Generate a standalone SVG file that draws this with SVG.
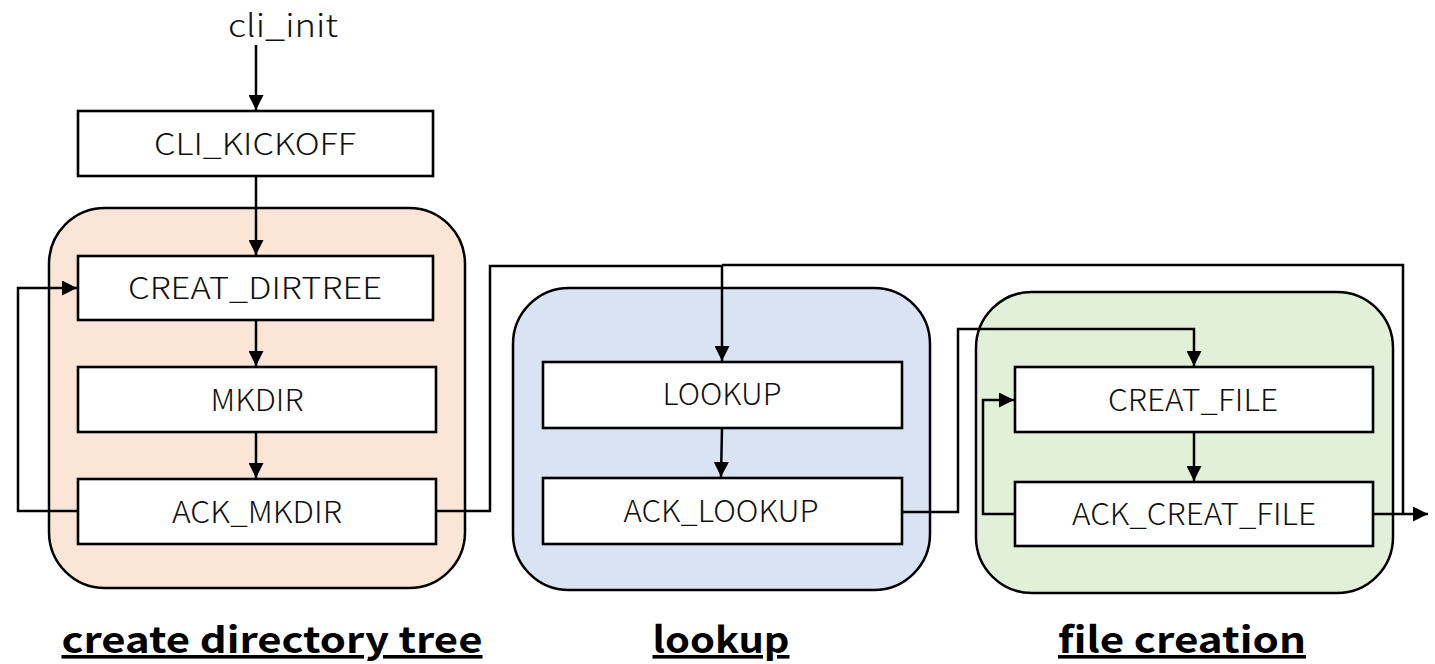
<svg xmlns="http://www.w3.org/2000/svg" width="1435" height="664" viewBox="0 0 1435 664">
  <defs>
    <marker id="arrow" viewBox="0 0 15 15" refX="15" refY="7.5" markerWidth="15" markerHeight="15" markerUnits="userSpaceOnUse" orient="auto">
      <path d="M0,0 L15,7.5 L0,15 Z" fill="#000"/>
    </marker>
    <style>
      .group { stroke: #000; stroke-width: 2.5; }
      .box { fill: #fff; stroke: #000; stroke-width: 2.6; }
      .label { font-family: "Noto Sans CJK JP", "Noto Sans", sans-serif; font-size: 30px; font-weight: 300; fill: #111; text-anchor: middle; }
      .title { font-family: "Noto Sans CJK JP", "Noto Sans", sans-serif; font-size: 36px; font-weight: bold; fill: #000; text-anchor: middle; text-decoration: underline; }
      .wire { fill: none; stroke: #000; stroke-width: 2.5; }
    </style>
  </defs>
  <rect width="1435" height="664" fill="#fff"/>

  <!-- phase containers -->
  <g id="grp-dirtree">
    <rect class="group" x="49" y="208" width="416" height="380" rx="56" fill="#FBE5D6"/>
    <text class="title" x="272" y="653" textLength="421" lengthAdjust="spacingAndGlyphs">create directory tree</text>
  </g>
  <g id="grp-lookup">
    <rect class="group" x="513" y="288" width="417" height="302" rx="56" fill="#DAE3F3"/>
    <text class="title" x="721" y="653" textLength="137" lengthAdjust="spacingAndGlyphs">lookup</text>
  </g>
  <g id="grp-filecreate">
    <rect class="group" x="976" y="292" width="417" height="301" rx="56" fill="#E2F0D9"/>
    <text class="title" x="1182" y="653" textLength="248" lengthAdjust="spacingAndGlyphs">file creation</text>
  </g>

  <!-- connectors -->
  <g id="connectors">
    <path class="wire" d="M256,45 V110" marker-end="url(#arrow)"/>
    <path class="wire" d="M256,176 V255" marker-end="url(#arrow)"/>
    <path class="wire" d="M256,320 V366" marker-end="url(#arrow)"/>
    <path class="wire" d="M256,432 V478" marker-end="url(#arrow)"/>
    <path class="wire" d="M78,511 H18 V288 H77" marker-end="url(#arrow)"/>
    <path class="wire" d="M436,511 H490 V266 H722 V361" marker-end="url(#arrow)"/>
    <path class="wire" d="M722,428 L721,477" marker-end="url(#arrow)"/>
    <path class="wire" d="M902,512 H958 V329 H1194 V366" marker-end="url(#arrow)"/>
    <path class="wire" d="M1194,432 V481" marker-end="url(#arrow)"/>
    <path class="wire" d="M1015,514 H983 V400 H1014" marker-end="url(#arrow)"/>
    <path class="wire" d="M1373,514 H1428" marker-end="url(#arrow)"/>
    <path class="wire" d="M1403,514 V265 H722"/>
  </g>

  <!-- entry label -->
  <g id="entry">
    <text x="283" y="37" textLength="110" lengthAdjust="spacingAndGlyphs" style="font-family: 'Noto Sans CJK JP', 'Noto Sans', sans-serif; font-size: 31px; font-weight: 300; fill: #111; text-anchor: middle;">cli_init</text>
  </g>

  <!-- state nodes -->
  <g id="n-cli-kickoff">
    <rect class="box" x="78" y="111" width="355" height="65"/>
    <text class="label" x="255" y="155" textLength="202" lengthAdjust="spacingAndGlyphs">CLI_KICKOFF</text>
  </g>
  <g id="n-creat-dirtree">
    <rect class="box" x="78" y="256" width="355" height="64"/>
    <text class="label" x="255" y="299" textLength="254" lengthAdjust="spacingAndGlyphs">CREAT_DIRTREE</text>
  </g>
  <g id="n-mkdir">
    <rect class="box" x="78" y="367" width="358" height="65"/>
    <text class="label" x="257" y="411" textLength="93" lengthAdjust="spacingAndGlyphs">MKDIR</text>
  </g>
  <g id="n-ack-mkdir">
    <rect class="box" x="78" y="479" width="358" height="65"/>
    <text class="label" x="257" y="523" textLength="170" lengthAdjust="spacingAndGlyphs">ACK_MKDIR</text>
  </g>
  <g id="n-lookup">
    <rect class="box" x="543" y="362" width="359" height="66"/>
    <text class="label" x="722" y="405" textLength="119" lengthAdjust="spacingAndGlyphs">LOOKUP</text>
  </g>
  <g id="n-ack-lookup">
    <rect class="box" x="543" y="478" width="359" height="66"/>
    <text class="label" x="721" y="522" textLength="195" lengthAdjust="spacingAndGlyphs">ACK_LOOKUP</text>
  </g>
  <g id="n-creat-file">
    <rect class="box" x="1015" y="367" width="358" height="65"/>
    <text class="label" x="1193" y="411" textLength="170" lengthAdjust="spacingAndGlyphs">CREAT_FILE</text>
  </g>
  <g id="n-ack-creat-file">
    <rect class="box" x="1015" y="482" width="358" height="64"/>
    <text class="label" x="1194" y="525" textLength="244" lengthAdjust="spacingAndGlyphs">ACK_CREAT_FILE</text>
  </g>
</svg>
